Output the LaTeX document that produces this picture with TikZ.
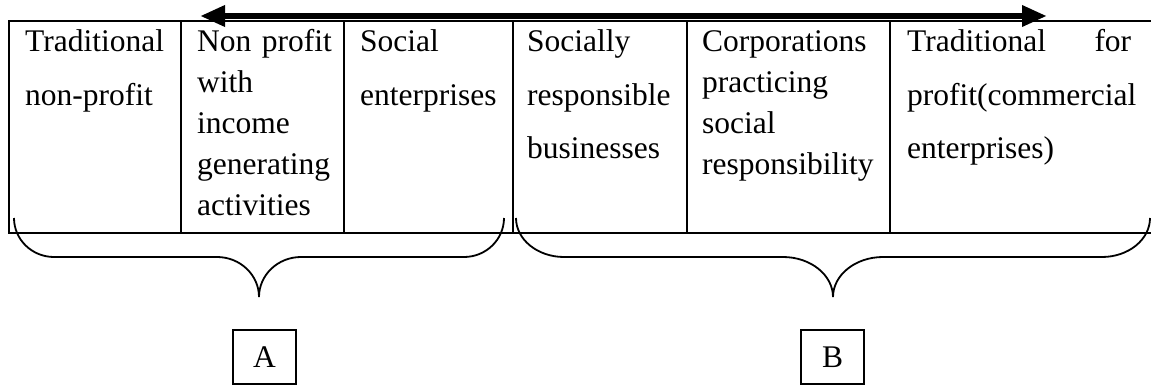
\documentclass[tikz,border=0pt]{standalone}
\usepackage{fontspec}
\setmainfont{Liberation Serif}
\usetikzlibrary{arrows.meta}

% curly brace: left x, right x, tip x, end width, cusp width
\newcommand{\groupbrace}[5]{%
  \draw[bracestyle] (#1,218)
    .. controls (#1,239.5) and (#1+0.448*#4,257) .. (#1+#4,257)
    -- (#3-#5,257)
    .. controls (#3-0.448*#5,257) and (#3,275) .. (#3,297)
    .. controls (#3,275) and (#3+0.448*#5,257) .. (#3+#5,257)
    -- (#2-#4,257)
    .. controls (#2-0.448*#4,257) and (#2,239.5) .. (#2,218);}

\begin{document}
\begin{tikzpicture}[x=1pt,y=-1pt,
  gridline/.style={line width=2pt},
  bracestyle/.style={line width=1.8pt},
  celltext/.style={anchor=base west,inner sep=0pt,align=left,text width=#1},
  wide/.style={font=\fontsize{31.5}{53.5}\selectfont},
  tight/.style={font=\fontsize{31.5}{41}\selectfont},
  groupbox/.style={draw,line width=1.3pt,minimum width=63pt,minimum height=54pt,
    inner sep=0pt,font=\fontsize{31.5}{36}\selectfont},
  spectrum/.style={line width=6.5pt,{Triangle[length=25pt,width=20pt]}-{Triangle[length=25pt,width=20pt]}}]
\useasboundingbox (0,0) rectangle (1151,385);

% table frame (open on the right)
\draw[gridline] (1151,21) -- (9,21) -- (9,233) -- (1151,233);
\foreach \cx in {181,344,513,687,890}
  \draw[gridline] (\cx,21) -- (\cx,233);

% spectrum arrow
\coordinate (arrowL) at (200,16);
\coordinate (arrowR) at (1047,16);
\draw[spectrum] (arrowL) -- (arrowR);

% cell texts
\node[celltext=150pt,wide]  (c1) at (25,52)  {Traditional\\non-profit};
\node[celltext=150pt,tight] (c2) at (197,52) {Non profit\\with\\income\\generating\\activities};
\node[celltext=160pt,wide]  (c3) at (360,52) {Social\\enterprises};
\node[celltext=160pt,wide]  (c4) at (527,52) {Socially\\responsible\\businesses};
\node[celltext=185pt,tight] (c5) at (702,52) {Corporations\\practicing\\social\\responsibility};
\node[celltext=235pt,wide]  (c6) at (907,52) {\hbox to 224pt{Traditional\hfill for}\\profit(commercial\\enterprises)};

% group braces
\groupbrace{14}{504}{259}{40}{42}
\groupbrace{516}{1150}{833}{48}{50}

% group labels
\node[groupbox] (ga) at (264.5,357) {A};
\node[groupbox] (gb) at (832.5,357) {B};
\end{tikzpicture}
\end{document}
